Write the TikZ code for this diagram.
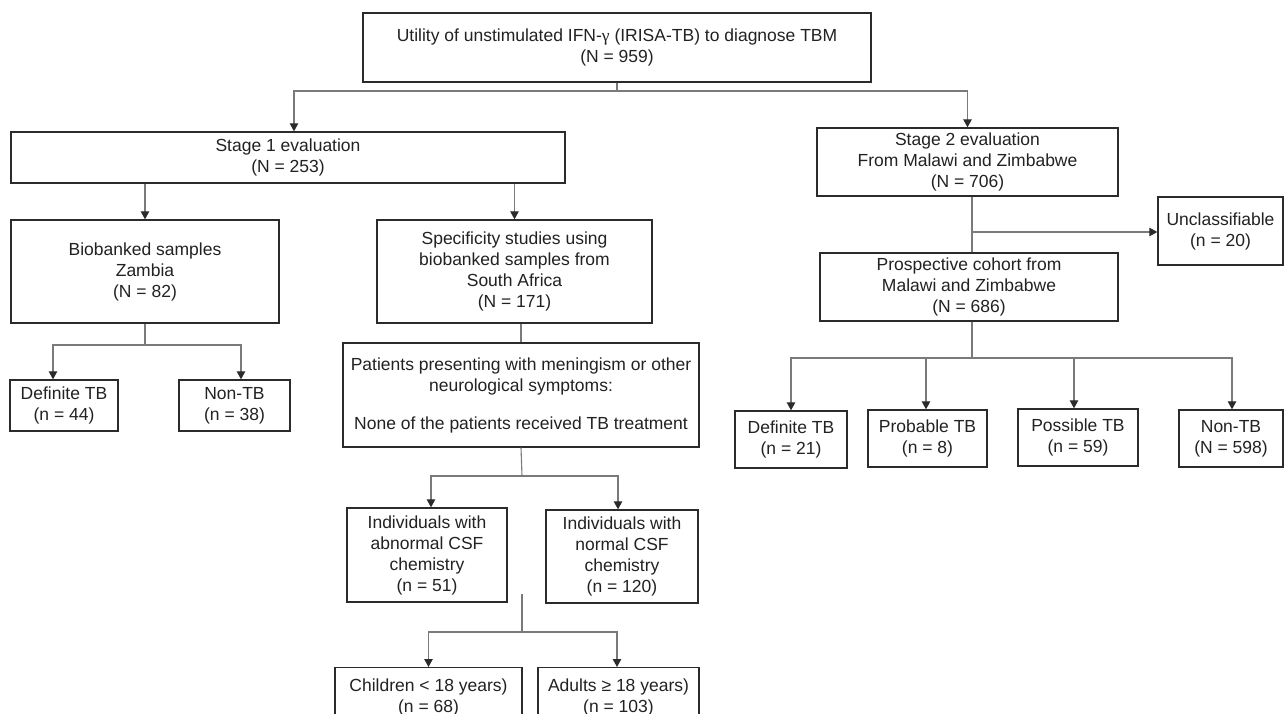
\documentclass[tikz,border=0pt]{standalone}
\usepackage{fontspec}
\setmainfont{Liberation Sans}
\newfontfamily\grkfont{Liberation Serif}
\usetikzlibrary{arrows.meta,calc}
\definecolor{boxc}{HTML}{2B2B2B}
\definecolor{linec}{HTML}{7A7A7A}
\definecolor{txtc}{HTML}{222222}
\begin{document}
\begin{tikzpicture}[x=1pt,y=-1pt,
  box/.style={draw=boxc, line width=1.4pt, align=center, text=txtc,
    font=\fontsize{17.5}{21}\selectfont, inner sep=0pt},
  wh/.style 2 args={minimum width=#1pt, minimum height=#2pt},
  conn/.style={draw=linec, line width=1.1pt},
  arr/.style={conn, -{Triangle[width=8.5pt,length=8pt,color=boxc]}}]
\useasboundingbox (0,0) rectangle (1285,714);
\fill[white] (0,0) rectangle (1285,714);
\clip (0,0) rectangle (1285,714);

% boxes
\node[box, wh={508}{69}] (top) at (617,47.5) {Utility of unstimulated IFN-{\grkfont γ} (IRISA-TB) to diagnose TBM\\(N = 959)};
\node[box, wh={554}{51}] (s1) at (288,157.5) {Stage 1 evaluation\\(N = 253)};
\node[box, wh={301}{68}] (s2) at (967.5,162) {Stage 2 evaluation\\From Malawi and Zimbabwe\\(N = 706)};
\node[box, wh={268}{103}] (bio) at (145,271.5) {Biobanked samples\\Zambia\\(N = 82)};
\node[box, wh={275}{103}] (spec) at (514.5,271.5) {Specificity studies using\\biobanked samples from\\South Africa\\(N = 171)};
\node[box, wh={108}{51}] (d1) at (64,405.5) {Definite TB\\(n = 44)};
\node[box, wh={111}{51}] (n1) at (234.5,405.5) {Non-TB\\(n = 38)};
\node[box, wh={356}{104}] (pat) at (521,395) {Patients presenting with meningism or other\\neurological symptoms:\\[17pt]None of the patients received TB treatment};
\node[box, wh={160}{94}] (ab) at (427,555) {Individuals with\\abnormal CSF\\chemistry\\(n = 51)};
\node[box, wh={152}{93}] (no) at (622,556.5) {Individuals with\\normal CSF\\chemistry\\(n = 120)};
\node[box, wh={187}{60}, anchor=north] (ch) at (428.5,667) {Children < 18 years)\\(n = 68)};
\node[box, wh={161}{60}, anchor=north] (ad) at (618.5,667) {Adults ≥ 18 years)\\(n = 103)};
\node[box, wh={125}{68}] (un) at (1220.5,231) {Unclassifiable\\(n = 20)};
\node[box, wh={298}{68}] (pro) at (969,287) {Prospective cohort from\\Malawi and Zimbabwe\\(N = 686)};
\node[box, wh={112}{57}] (b1) at (791,439.5) {Definite TB\\(n = 21)};
\node[box, wh={119}{57}] (b2) at (927.5,438.5) {Probable TB\\(n = 8)};
\node[box, wh={120}{57}] (b3) at (1078,437.5) {Possible TB\\(n = 59)};
\node[box, wh={104}{57}] (b4) at (1231,438.5) {Non-TB\\(N = 598)};

% connectors
\coordinate (j0) at (617,91);
\draw[conn] (top.south) -- (j0);
\draw[arr] (j0) -| ([xshift=6pt]s1.north);
\draw[arr] (j0) -| (s2.north);

\draw[arr] (s1.south -| bio.north) -- (bio.north);
\draw[arr] (s1.south -| spec.north) -- (spec.north);

\coordinate (j1) at (145,345);
\draw[conn] (bio.south) -- (j1);
\draw[arr] (j1) -| ([xshift=-11pt]d1.north);
\draw[arr] (j1) -| ([xshift=6.5pt]n1.north);

\draw[conn] (spec.south -| pat.north) -- (pat.north);

\coordinate (j2) at (522,476);
\draw[conn] (pat.south) -- (j2);
\draw[arr] (j2) -| ([xshift=4pt]ab.north);
\draw[arr] (j2) -| ([xshift=-4pt]no.north);

\coordinate (f0) at (522,594);
\coordinate (j3) at (522,632);
\draw[conn] (f0) -- (j3);
\draw[arr] (j3) -| (ch.north);
\draw[arr] (j3) -| ([xshift=-1.5pt]ad.north);

\coordinate (j4) at (972,232);
\draw[conn] ([xshift=4.5pt]s2.south) -- ([xshift=3pt]pro.north);
\draw[arr] (j4) -- (j4 -| un.west);

\coordinate (j5) at (972,358);
\draw[conn] ([xshift=3pt]pro.south) -- (j5);
\draw[arr] (j5) -| (b1.north);
\draw[arr] (j5) -| ([xshift=-1.5pt]b2.north);
\draw[arr] (j5) -| ([xshift=-4pt]b3.north);
\draw[arr] (j5) -| ([xshift=1pt]b4.north);
\end{tikzpicture}
\end{document}
